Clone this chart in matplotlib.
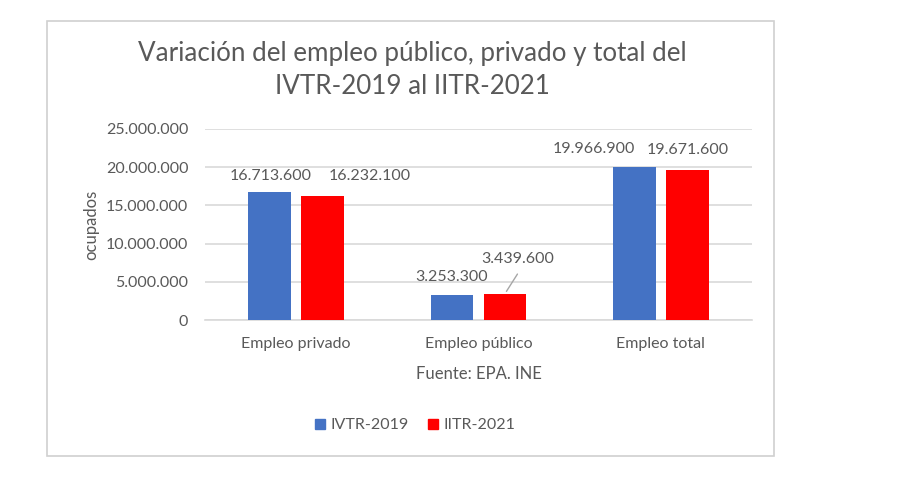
import numpy as np
import matplotlib.pyplot as plt
from matplotlib.patches import Rectangle
from matplotlib.lines import Line2D

plt.rcParams["font.family"] = ["Lato", "DejaVu Sans"]

# data
categories = ["Empleo privado", "Empleo público", "Empleo total"]
series_names = ["IVTR-2019", "IITR-2021"]
ivtr_2019 = [16713600, 3253300, 19966900]
iitr_2021 = [16232100, 3439600, 19671600]
yticks = [0, 5000000, 10000000, 15000000, 20000000, 25000000]

BLUE = "#4472C4"
RED = "#FF0000"
TXT = "#595959"
GRID = "#D9D9D9"


def fmt_es(v):
    return f"{v:,.0f}".replace(",", ".")


fig = plt.figure(figsize=(9.13, 4.80), dpi=100)
ax = fig.add_axes([205 / 913, 1 - 320 / 480, 547 / 913, 191 / 480])

# outer chart border
fig.patches.append(Rectangle((47 / 913, 1 - 456 / 480), 727 / 913, 435 / 480,
                             transform=fig.transFigure, fill=False,
                             edgecolor="#D0D0D0", linewidth=1.2))

x = np.arange(len(categories))
w = 0.235
off = 0.145
b1 = ax.bar(x - off, ivtr_2019, w, color=BLUE, label=series_names[0], zorder=3)
b2 = ax.bar(x + off, iitr_2021, w, color=RED, label=series_names[1], zorder=3)

ax.set_xlim(-0.5, 2.5)
ax.set_ylim(0, 25000000)
ax.set_yticks(yticks)
ax.set_yticklabels([fmt_es(v) if v else "0" for v in yticks])
ax.set_xticks(x)
ax.set_xticklabels(categories)
ax.tick_params(axis="both", length=0, labelsize=11.5, colors=TXT)
ax.tick_params(axis="y", pad=12)
ax.tick_params(axis="x", pad=12)
ax.grid(axis="y", color=GRID, linewidth=1.2, zorder=0)
for s in ["top", "right", "left"]:
    ax.spines[s].set_visible(False)
ax.spines["bottom"].set_color(GRID)
ax.spines["bottom"].set_linewidth(1.2)

ax.set_ylabel("ocupados", fontsize=12, color=TXT, labelpad=5)

# data labels (pixel offsets from bar tops, as placed in the reference)
label_offsets = {
    (0, 0): (1, 16), (0, 1): (47, 20),
    (1, 0): (0, 18), (1, 1): (13, 35),
    (2, 0): (-41, 18), (2, 1): (0, 20),
}
for si, bars in enumerate((b1, b2)):
    for ci, bar in enumerate(bars):
        bx = bar.get_x() + bar.get_width() / 2
        by = bar.get_height()
        dx, dy = label_offsets[(ci, si)]
        ax.annotate(fmt_es(by), (bx, by), xytext=(dx, dy),
                    textcoords="offset pixels", ha="center", va="center",
                    fontsize=11.5, color=TXT, zorder=4)

# leader line for the public 2021 label
bar = b2[1]
ax.annotate("", (bar.get_x() + bar.get_width() / 2, bar.get_height()),
            xytext=(14, 22), textcoords="offset pixels",
            arrowprops=dict(arrowstyle="-", color="#A6A6A6", lw=1))

fig.text(412 / 913, 1 - 70 / 480,
         "Variación del empleo público, privado y total del\nIVTR-2019 al IITR-2021",
         ha="center", va="center", fontsize=18.7, color=TXT, linespacing=1.38)

fig.text(479 / 913, 1 - 374 / 480, "Fuente: EPA. INE", ha="center",
         va="center", fontsize=12, color=TXT)

handles = [Line2D([], [], marker="s", linestyle="none", markersize=7,
                  markerfacecolor=c, markeredgecolor=c) for c in (BLUE, RED)]
fig.legend(handles, series_names, loc="center", ncol=2,
           bbox_to_anchor=(415 / 913, 1 - 425 / 480), frameon=False,
           fontsize=11.5, labelcolor=TXT, handletextpad=0.3,
           columnspacing=1.2, handlelength=0.7)

fig.savefig("out.png", dpi=100, facecolor="white")
